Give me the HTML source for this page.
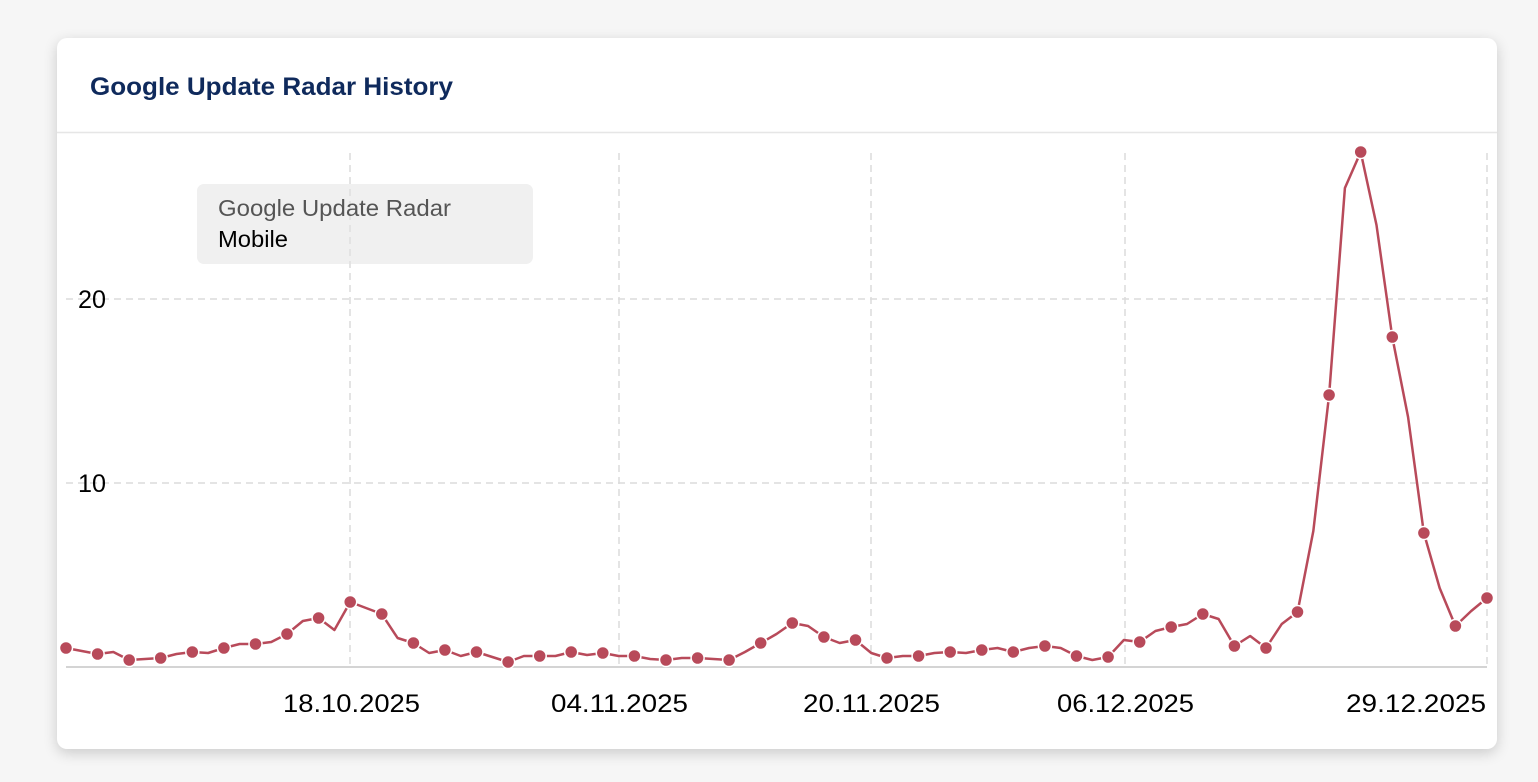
<!DOCTYPE html>
<html><head><meta charset="utf-8"><style>
html,body{margin:0;padding:0;background:#f6f6f6;width:1538px;height:782px;overflow:hidden;font-family:"Liberation Sans",Arial,sans-serif}
.card{position:absolute;left:57px;top:38px;width:1440px;height:711px;background:#fff;border-radius:10px;box-shadow:0 4px 14px rgba(0,0,0,0.18)}
svg{position:absolute;left:0;top:0}
</style></head><body>
<div class="card"></div>
<svg width="1538" height="782" viewBox="0 0 1538 782">
<text x="90" y="95" font-family="Liberation Sans,Arial,sans-serif" font-weight="bold" font-size="25" fill="#0f2a5c" textLength="363" lengthAdjust="spacingAndGlyphs">Google Update Radar History</text>
<line x1="57" y1="132.5" x2="1497" y2="132.5" stroke="#e6e6e6" stroke-width="1.5"/>
<g stroke="#dcdcdc" stroke-width="1.5" stroke-dasharray="7,5">
<line x1="66" y1="299" x2="1487" y2="299"/>
<line x1="66" y1="483" x2="1487" y2="483"/>
<line x1="350" y1="153" x2="350" y2="667"/>
<line x1="619" y1="153" x2="619" y2="667"/>
<line x1="871" y1="153" x2="871" y2="667"/>
<line x1="1125" y1="153" x2="1125" y2="667"/>
<line x1="1487" y1="153" x2="1487" y2="667"/>
</g>
<line x1="66" y1="667" x2="1487" y2="667" stroke="#d4d4d4" stroke-width="2"/>
<g font-size="25" fill="#000" font-family="Liberation Sans,Arial,sans-serif">
<text x="78" y="308" textLength="28" lengthAdjust="spacingAndGlyphs">20</text>
<text x="78" y="492" textLength="28" lengthAdjust="spacingAndGlyphs">10</text>
<text x="283" y="712" textLength="137" lengthAdjust="spacingAndGlyphs">18.10.2025</text>
<text x="551" y="712" textLength="137" lengthAdjust="spacingAndGlyphs">04.11.2025</text>
<text x="803" y="712" textLength="137" lengthAdjust="spacingAndGlyphs">20.11.2025</text>
<text x="1057" y="712" textLength="137" lengthAdjust="spacingAndGlyphs">06.12.2025</text>
<text x="1346" y="712" textLength="140" lengthAdjust="spacingAndGlyphs">29.12.2025</text>
</g>
<rect x="197" y="184" width="336" height="80" rx="7" fill="rgba(225,225,225,0.5)"/>
<text x="218" y="216" font-size="23" fill="#555" textLength="233" lengthAdjust="spacingAndGlyphs">Google Update Radar</text>
<text x="218" y="247" font-size="23" fill="#000" textLength="70" lengthAdjust="spacingAndGlyphs">Mobile</text>
<g transform="translate(66,0) scale(15.789,1)">
<polyline fill="none" stroke="#b84a5a" stroke-width="2.5" stroke-linejoin="round" vector-effect="non-scaling-stroke" points="0,648 1,651 2,654 3,652 4,660 5,659 6,658 7,654 8,652 9,653 10,648 11,644 12,644 13,642 14,634 15,621 16,618 17,630 18,602 19,608 20,614 21,638 22,643 23,653 24,650 25,656 26,652 27,657 28,662 29,656 30,656 31,656 32,652 33,655 34,653 35,656 36,656 37,659 38,660 39,658 40,658 41,659 42,660 43,652 44,643 45,634 46,623 47,626 48,637 49,643 50,640 51,653 52,658 53,656 54,656 55,653 56,652 57,653 58,650 59,648 60,652 61,648 62,646 63,648 64,656 65,660 66,657 67,640 68,642 69,631 70,627 71,624 72,614 73,619 74,646 75,636 76,648 77,624 78,612 79,531 80,395 81,188 82,152 83,225 84,337 85,417 86,533 87,588 88,626 89,611 90,598"/>
</g>
<g fill="#b84a5a" stroke="#fff" stroke-width="1.5">
<circle cx="66" cy="648" r="6.5"/><circle cx="97.6" cy="654" r="6.5"/><circle cx="129.2" cy="660" r="6.5"/><circle cx="160.7" cy="658" r="6.5"/><circle cx="192.3" cy="652" r="6.5"/><circle cx="223.9" cy="648" r="6.5"/><circle cx="255.5" cy="644" r="6.5"/><circle cx="287" cy="634" r="6.5"/><circle cx="318.6" cy="618" r="6.5"/><circle cx="350.2" cy="602" r="6.5"/><circle cx="381.8" cy="614" r="6.5"/><circle cx="413.4" cy="643" r="6.5"/><circle cx="444.9" cy="650" r="6.5"/><circle cx="476.5" cy="652" r="6.5"/><circle cx="508.1" cy="662" r="6.5"/><circle cx="539.7" cy="656" r="6.5"/><circle cx="571.2" cy="652" r="6.5"/><circle cx="602.8" cy="653" r="6.5"/><circle cx="634.4" cy="656" r="6.5"/><circle cx="666" cy="660" r="6.5"/><circle cx="697.6" cy="658" r="6.5"/><circle cx="729.1" cy="660" r="6.5"/><circle cx="760.7" cy="643" r="6.5"/><circle cx="792.3" cy="623" r="6.5"/><circle cx="823.9" cy="637" r="6.5"/><circle cx="855.5" cy="640" r="6.5"/><circle cx="887" cy="658" r="6.5"/><circle cx="918.6" cy="656" r="6.5"/><circle cx="950.2" cy="652" r="6.5"/><circle cx="981.8" cy="650" r="6.5"/><circle cx="1013.3" cy="652" r="6.5"/><circle cx="1044.9" cy="646" r="6.5"/><circle cx="1076.5" cy="656" r="6.5"/><circle cx="1108.1" cy="657" r="6.5"/><circle cx="1139.7" cy="642" r="6.5"/><circle cx="1171.2" cy="627" r="6.5"/><circle cx="1202.8" cy="614" r="6.5"/><circle cx="1234.4" cy="646" r="6.5"/><circle cx="1266" cy="648" r="6.5"/><circle cx="1297.5" cy="612" r="6.5"/><circle cx="1329.1" cy="395" r="6.5"/><circle cx="1360.7" cy="152" r="6.5"/><circle cx="1392.3" cy="337" r="6.5"/><circle cx="1423.9" cy="533" r="6.5"/><circle cx="1455.4" cy="626" r="6.5"/><circle cx="1487" cy="598" r="6.5"/>
</g>
</svg>
</body></html>
